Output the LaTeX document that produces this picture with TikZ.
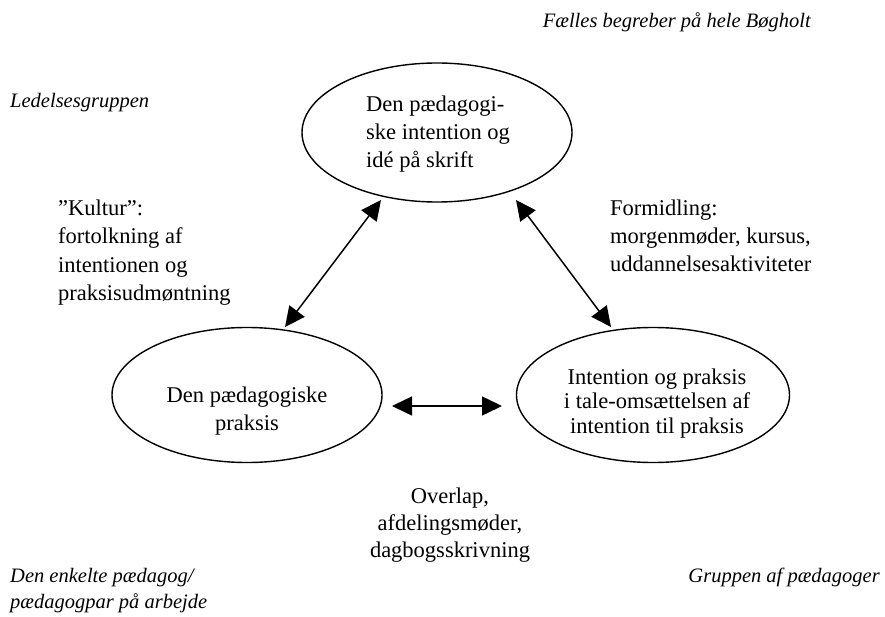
\documentclass[tikz,border=0pt]{standalone}
\usepackage{fontspec}
\setmainfont{Liberation Serif}
\usetikzlibrary{shapes.geometric,arrows.meta}
\begin{document}
\begin{tikzpicture}[x=1pt,y=-1pt,
  txt/.style={inner sep=0pt,font=\fontsize{22.5}{28}\selectfont},
  itxt/.style={inner sep=0pt,font=\fontsize{20.5}{26}\selectfont\itshape},
  oval/.style={ellipse,draw,line width=1.4pt,inner sep=0pt},
  dblarrow/.style={line width=1.5pt,{Triangle[length=20pt,width=19pt]}-{Triangle[length=20pt,width=19pt]}}]
\useasboundingbox (0,0) rectangle (885,617);
\node[oval,minimum width=270pt,minimum height=139pt] (top) at (437,132.5) {};
\node[oval,minimum width=270pt,minimum height=135pt] (left) at (247,395) {};
\node[oval,minimum width=273pt,minimum height=135pt] (right) at (653,395) {};
\node[txt,align=left,anchor=base west] (toptext) at (366,168) {Den pædagogi-\\ske intention og\\idé på skrift};
\node[txt,align=center,anchor=base] (lefttext) at (247,430) {Den pædagogiske\\praksis};
\node[txt,align=center,anchor=base,font=\fontsize{22.5}{24.5}\selectfont] (righttext) at (657,433) {Intention og praksis\\i tale-omsættelsen af\\intention til praksis};
\coordinate (l1) at (285,327);
\coordinate (l2) at (381,200);
\coordinate (r1) at (611,327);
\coordinate (r2) at (516,200);
\coordinate (h1) at (392,406);
\coordinate (h2) at (502,406);
\draw[dblarrow] (l1) -- (l2);
\draw[dblarrow] (r1) -- (r2);
\draw[dblarrow] (h1) -- (h2);
\node[itxt,anchor=base east] (faelles) at (811,28) {Fælles begreber på hele Bøgholt};
\node[itxt,anchor=base west] (ledelse) at (10,108) {Ledelsesgruppen};
\node[txt,align=left,anchor=base west] (kultur) at (58,300) {”Kultur”:\\fortolkning af\\intentionen og\\praksisudmøntning};
\node[txt,align=left,anchor=base west] (formid) at (610,272) {Formidling:\\morgenmøder, kursus,\\uddannelsesaktiviteter};
\node[txt,align=center,anchor=base,font=\fontsize{22.5}{27}\selectfont] (overlap) at (450,557) {Overlap,\\afdelingsmøder,\\dagbogsskrivning};
\node[itxt,align=left,anchor=base west] (enkelte) at (10,608) {Den enkelte pædagog/\\pædagogpar på arbejde};
\node[itxt,anchor=base east] (gruppen) at (880,582) {Gruppen af pædagoger};
\end{tikzpicture}
\end{document}
